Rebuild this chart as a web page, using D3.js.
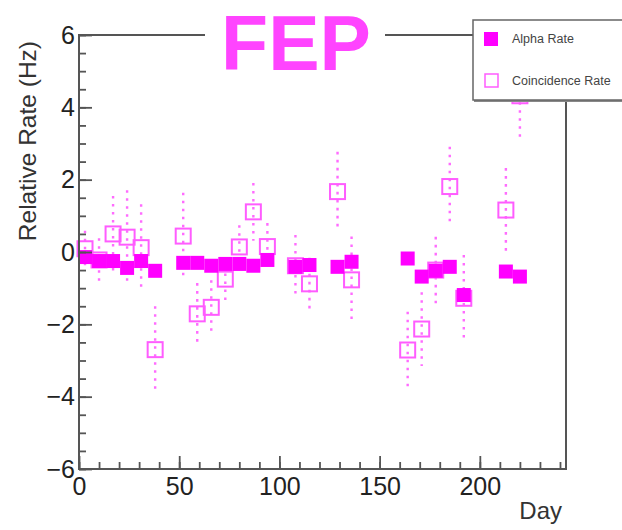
<!DOCTYPE html>
<html>
<head>
<meta charset="utf-8">
<script src="https://cdn.jsdelivr.net/npm/d3@7"></script>
<style>
  html, body { margin: 0; padding: 0; background: #fff; }
  svg { display: block; font-family: "Liberation Sans", Arial, sans-serif; }
</style>
</head>
<body>
<svg id="chart" width="622" height="530"></svg>
<script>
// Measurement days
const days = [3, 10, 17, 24, 31, 38, 52, 59, 66, 73, 80, 87, 94, 108, 115, 129, 136, 164, 171, 178, 185, 192, 213, 220];
// Relative alpha rate (Hz)
const alphaRate = [-0.14, -0.25, -0.25, -0.44, -0.25, -0.52, -0.30, -0.30, -0.38, -0.33, -0.33, -0.38, -0.22, -0.41, -0.36, -0.41, -0.27, -0.18, -0.68, -0.52, -0.41, -1.19, -0.54, -0.68];
// Relative coincidence rate (Hz) and its uncertainty
const coincRate = [0.09, -0.22, 0.50, 0.41, 0.12, -2.70, 0.44, -1.71, -1.53, -0.75, 0.14, 1.11, 0.15, -0.38, -0.88, 1.67, -0.77, -2.71, -2.13, -0.50, 1.81, -1.28, 1.16, 4.32];
const coincErr = [0.50, 0.60, 1.05, 1.30, 1.20, 1.20, 1.20, 0.85, 0.75, 0.60, 0.60, 0.80, 0.65, 0.85, 0.72, 1.10, 1.20, 1.06, 1.02, 0.92, 1.10, 1.20, 1.16, 1.15];
// Axis ticks
const xMajor = [0, 50, 100, 150, 200];
const xMinor = d3.range(0, 241, 10);
const yMajor = [-6, -4, -2, 0, 2, 4, 6];
const yMinor = d3.range(-6, 6.01, 0.5);
const legendLabels = ["Alpha Rate", "Coincidence Rate"];

const svg = d3.select("#chart");
const frameColor = "#555";
const alphaColor = "#ff00ff";
const coincColor = "#ff5cff";

const x = d3.scaleLinear().domain([0, 243]).range([79, 566]);
const y = d3.scaleLinear().domain([-6, 6]).range([469, 35]);

// Coincidence error bars (dotted)
const coinc = days.map((d, i) => ({ day: d, v: coincRate[i], e: coincErr[i] }));
svg.append("g").selectAll("line").data(coinc).join("line")
  .attr("x1", d => x(d.day)).attr("x2", d => x(d.day))
  .attr("y1", d => y(d.v + d.e)).attr("y2", d => y(d.v - d.e))
  .attr("stroke", coincColor).attr("stroke-width", 2.4)
  .attr("stroke-dasharray", "2.6 5.4").attr("opacity", 0.9);

// Coincidence markers (open squares)
const ms = 14, mo = 15;
svg.append("g").selectAll("rect").data(coinc).join("rect")
  .attr("x", d => x(d.day) - mo / 2).attr("y", d => y(d.v) - mo / 2)
  .attr("width", mo).attr("height", mo)
  .attr("fill", "none").attr("stroke", coincColor).attr("stroke-width", 2);

// Alpha markers (filled squares)
const alpha = days.map((d, i) => ({ day: d, v: alphaRate[i] }));
svg.append("g").selectAll("rect").data(alpha).join("rect")
  .attr("x", d => x(d.day) - ms / 2).attr("y", d => y(d.v) - ms / 2)
  .attr("width", ms).attr("height", ms)
  .attr("fill", alphaColor);

// Axes with inward ticks
function styleAxis(g) {
  g.select(".domain").remove();
  g.selectAll(".tick line").attr("stroke", frameColor).attr("stroke-width", 1.8);
  g.selectAll("text").attr("fill", "#222").attr("font-size", 25);
}
svg.append("g").attr("transform", `translate(0,${y(-6)})`)
  .call(d3.axisBottom(x).tickValues(xMinor).tickSize(-7).tickFormat(""))
  .call(styleAxis);
svg.append("g").attr("transform", `translate(0,${y(-6)})`)
  .call(d3.axisBottom(x).tickValues(xMajor).tickSize(-13).tickPadding(8).tickFormat(d3.format("d")))
  .call(styleAxis);
svg.append("g").attr("transform", `translate(${x(0)},0)`)
  .call(d3.axisLeft(y).tickValues(yMinor).tickSize(-7).tickFormat(""))
  .call(styleAxis);
svg.append("g").attr("transform", `translate(${x(0)},0)`)
  .call(d3.axisLeft(y).tickValues(yMajor).tickSize(-13).tickPadding(4).tickFormat(d3.format("d")))
  .call(styleAxis);

// Frame
svg.append("rect")
  .attr("x", x(0)).attr("y", y(6))
  .attr("width", x(243) - x(0)).attr("height", y(-6) - y(6))
  .attr("fill", "none").attr("stroke", frameColor).attr("stroke-width", 2);

// Axis titles
svg.append("text")
  .attr("transform", `translate(36,41) rotate(-90)`)
  .attr("text-anchor", "end").attr("font-size", 24.5).attr("fill", "#333")
  .text("Relative Rate (Hz)");
svg.append("text")
  .attr("x", 562).attr("y", 519)
  .attr("text-anchor", "end").attr("font-size", 24).attr("fill", "#333")
  .text("Day");

// Title on a white box over the frame
svg.append("rect").attr("x", 205).attr("y", 8).attr("width", 180).attr("height", 64).attr("fill", "#fff");
svg.append("text")
  .attr("x", 296).attr("y", 70)
  .attr("text-anchor", "middle").attr("font-size", 77).attr("font-weight", "bold")
  .attr("fill", "#ff44ff")
  .text("FEP");

// Legend
const lg = svg.append("g");
lg.append("rect").attr("x", 474).attr("y", 22).attr("width", 200).attr("height", 80).attr("fill", "#888");
lg.append("rect").attr("x", 473).attr("y", 20).attr("width", 200).attr("height", 80)
  .attr("fill", "#fff").attr("stroke", "#666").attr("stroke-width", 1.5);
lg.append("rect").attr("x", 484).attr("y", 32).attr("width", 14).attr("height", 14).attr("fill", alphaColor);
lg.append("rect").attr("x", 485).attr("y", 74).attr("width", 13).attr("height", 13)
  .attr("fill", "none").attr("stroke", coincColor).attr("stroke-width", 1.5);
lg.selectAll("text").data(legendLabels).join("text")
  .attr("x", 512).attr("y", (d, i) => [43, 85][i])
  .attr("font-size", 12.5).attr("fill", "#444")
  .text(d => d);
</script>
</body>
</html>
